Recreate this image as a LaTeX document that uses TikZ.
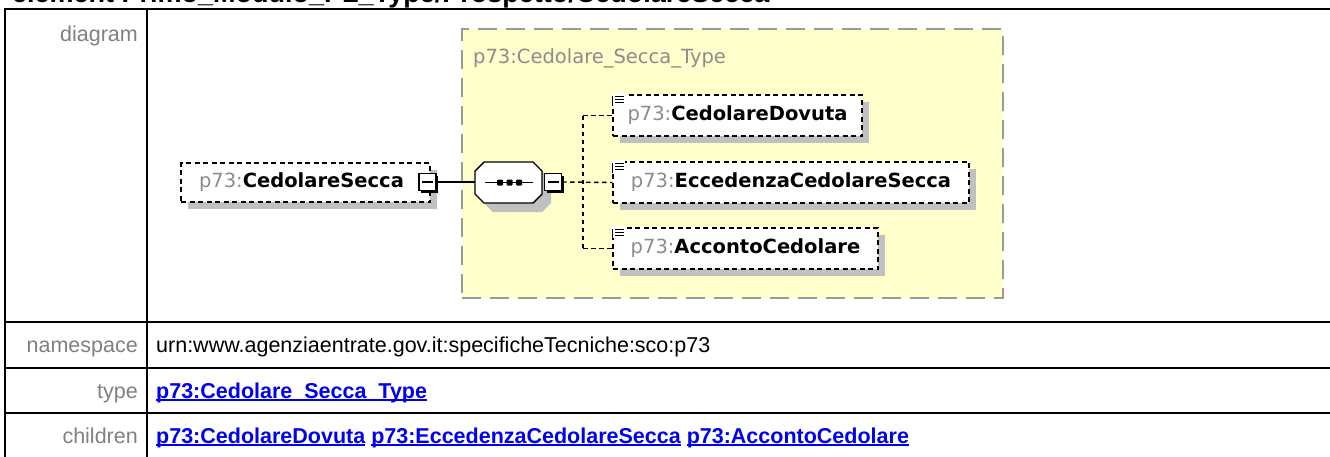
\documentclass[tikz,border=0pt]{standalone}
\usepackage{fontspec}
\setmainfont{Liberation Sans}
\newfontfamily\dvfont{DejaVu Sans}
\usetikzlibrary{shadows,calc}
\definecolor{ybg}{HTML}{FFFFCC}
\definecolor{ybd}{HTML}{9A9A9A}
\definecolor{pgray}{HTML}{8C8C8C}
\definecolor{shd}{HTML}{C0C0C0}
\definecolor{lgray}{HTML}{808080}
\definecolor{lnkblue}{HTML}{0000EE}
\newcommand\pname[1]{\textcolor{pgray}{p73:}\textbf{#1}}
\newcommand\lnk[1]{\setbox0=\hbox{\bfseries#1}\rlap{\rule[-3pt]{\wd0}{1.6pt}}\box0\relax}
\begin{document}
\begin{tikzpicture}[x=1pt,y=-1pt,
  elbox/.style={draw=black, line width=1.4pt, dash pattern=on 5pt off 3.5pt, fill=white, inner sep=0pt,
    minimum height=40pt, font=\dvfont\fontsize{19.5}{22}\selectfont,
    drop shadow={shadow xshift=7pt, shadow yshift=-7pt, fill=shd, opacity=1}},
  minusbox/.style={draw=black, fill=white, line width=1.2pt, minimum size=17pt, inner sep=0pt,
    drop shadow={shadow xshift=2.2pt, shadow yshift=-2.2pt, fill=black, opacity=1},
    path picture={\draw[line width=1.3pt] ([xshift=3pt]path picture bounding box.west) -- ([xshift=-3pt]path picture bounding box.east);}},
  typebox/.style={draw=ybd, fill=ybg, line width=2pt, dash pattern=on 19pt off 9pt, inner sep=0pt},
  conn/.style={draw=black, line width=1.4pt},
  dconn/.style={draw=black, line width=1.4pt, dash pattern=on 4.5pt off 3.5pt},
  lab/.style={anchor=base east, text=lgray, font=\fontsize{21.5}{24}\selectfont, inner sep=0pt},
  val/.style={anchor=base west, font=\fontsize{21.5}{24}\selectfont, inner sep=0pt},
  tline/.style={draw=black, line width=2pt}]
\useasboundingbox (0,0) rectangle (1330,456);
\clip (0,0) rectangle (1330,456);
\fill[white] (0,0) rectangle (1330,456);

% title (clipped at top, as in the reference)
\node[anchor=base west, inner sep=0pt, font=\bfseries\fontsize{27}{30}\selectfont] (title) at (12,2.5) {element Primo\_Modulo\_PL\_Type/Prospetto/CedolareSecca};

% table
\draw[tline] (1335,9) -- (5,9) -- (5,462);
\draw[tline] (147,9) -- (147,462);
\draw[tline] (5,322) -- (1335,322);
\draw[tline] (5,368) -- (1335,368);
\draw[tline] (5,413) -- (1335,413);

\node[lab] (lDiag) at (138,41) {diagram};
\node[lab] (lNs) at (138,352.5) {namespace};
\node[val] (vNs) at (156,352.5) {urn:www.agenziaentrate.gov.it:specificheTecniche:sco:p73};
\node[lab] (lTy) at (138,398) {type};
\node[val, text=lnkblue] (vTy) at (156,398) {\lnk{p73:Cedolare\_Secca\_Type}};
\node[lab] (lCh) at (138,443) {children};
\node[val, text=lnkblue] (vCh) at (156,443) {\lnk{p73:CedolareDovuta} \lnk{p73:EccedenzaCedolareSecca} \lnk{p73:AccontoCedolare}};

% complex type box
\node[typebox, minimum width=541pt, minimum height=269pt] (T) at (732.5,163.5) {};
\node[anchor=base west, inner sep=0pt, text=pgray, font=\dvfont\fontsize{19.5}{22}\selectfont] (Tl) at (473,63) {p73:Cedolare\_Secca\_Type};

% element
\node[elbox, minimum width=249pt, minimum height=39pt] (E) at (305.5,182.5) {\pname{CedolareSecca}\hspace*{8pt}};
\node[minusbox] (Em) at (427.5,182) {};

% sequence compositor
\node[minimum width=67pt, minimum height=41pt, inner sep=0pt] (S) at (508.5,182.5) {};
\fill[shd] (493,171) -- (542,171) -- (551,180) -- (551,203) -- (542,212) -- (493,212) -- (484,203) -- (484,180) -- cycle;
\draw[line width=1.4pt, fill=white] (484,162) -- (533,162) -- (542,171) -- (542,194) -- (533,203) -- (484,203) -- (475,194) -- (475,171) -- cycle;
\draw[line width=1.3pt] (485,182.5) -- (533,182.5);
\foreach \dx in {500,509.5,519} \fill[rounded corners=1pt] (\dx-3,179.5) rectangle (\dx+3,185.5);
\node[minusbox] (Sm) at (553,182) {};

\draw[conn] (Em.east) -- (Em.east -| S.west);

% children
\node[elbox, minimum width=249pt, minimum height=41pt] (C1) at (737.5,115.5) {\pname{CedolareDovuta}};
\node[elbox, minimum width=356pt, minimum height=41pt] (C2) at (791,182.5) {\pname{EccedenzaCedolareSecca}};
\node[elbox, minimum width=265pt, minimum height=41pt] (C3) at (745.5,248.5) {\pname{AccontoCedolare}};

\foreach \c in {C1,C2,C3}{
  \fill[white] ([shift={(-1,-1)}]\c.north west) rectangle ([shift={(13,11)}]\c.north west);
  \draw[line width=1.2pt] ([shift={(3,2)}]\c.north west) -- ++(9,0);
  \draw[line width=1.2pt] ([shift={(3,5)}]\c.north west) -- ++(9,0);
  \draw[line width=1.2pt] ([shift={(3,8)}]\c.north west) -- ++(9,0);
  \draw[line width=1.2pt] ([shift={(0,2)}]\c.north west) -- ++(0,10);
}

\coordinate (J) at (583,182.5);
\draw[dconn] (Sm.east) -- (C2.west);
\draw[dconn] (C1.west -| J) -- (C3.west -| J);
\draw[dconn] (C1.west -| J) -- (C1.west);
\draw[dconn] (C3.west -| J) -- (C3.west);
\end{tikzpicture}
\end{document}
